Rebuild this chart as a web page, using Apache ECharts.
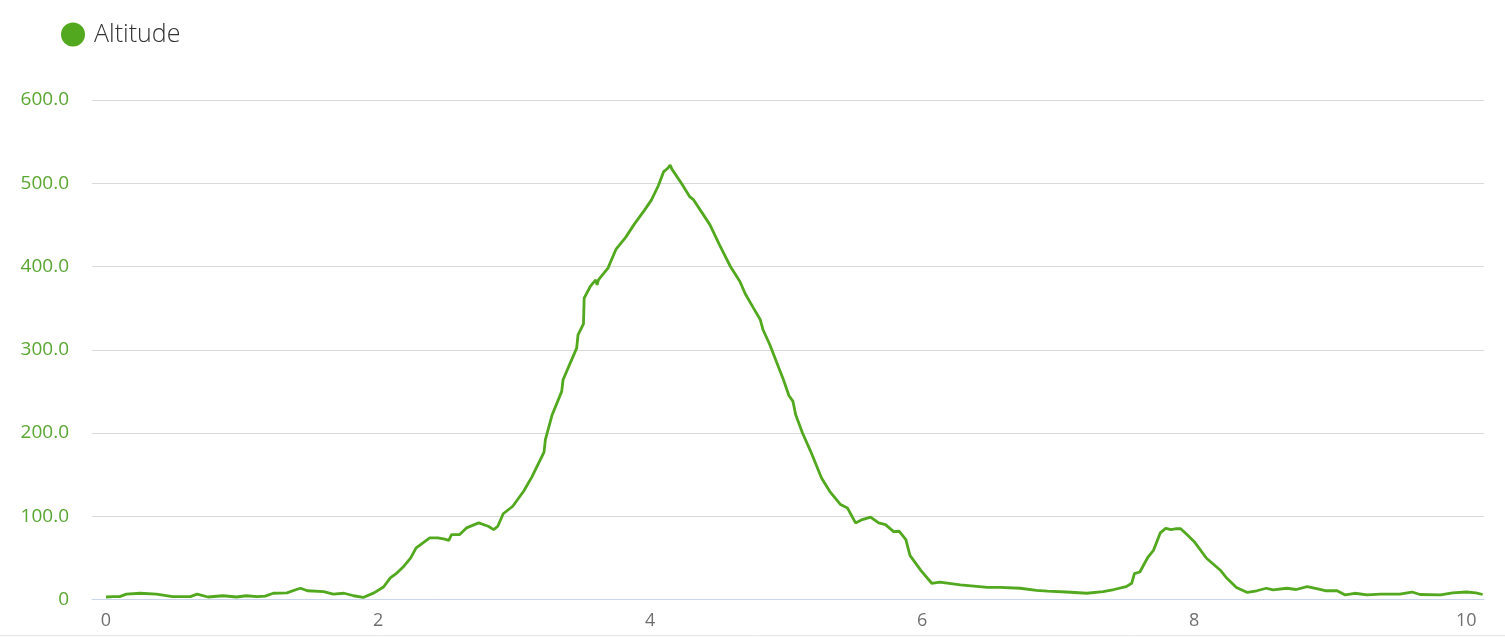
<!DOCTYPE html>
<html>
<head>
<meta charset="utf-8">
<script src="https://cdn.jsdelivr.net/npm/echarts@6/dist/echarts.min.js"></script>
<style>
html,body{margin:0;padding:0;background:#fff;}
#chart{width:1505px;height:637px;}
</style>
</head>
<body>
<div id="chart"></div>
<script>
var seriesName = 'Altitude';
var distance = [0,0.05,0.1,0.15,0.25,0.37,0.43,0.49,0.62,0.67,0.75,0.86,0.96,1.03,1.11,1.17,1.23,1.33,1.40,1.43,1.48,1.60,1.67,1.75,1.82,1.89,1.97,2.04,2.09,2.14,2.19,2.24,2.28,2.33,2.38,2.44,2.49,2.52,2.54,2.60,2.65,2.74,2.81,2.85,2.88,2.92,2.99,3.07,3.13,3.22,3.23,3.28,3.35,3.36,3.41,3.46,3.47,3.51,3.515,3.56,3.60,3.61,3.62,3.69,3.75,3.82,3.88,3.96,4.01,4.06,4.10,4.13,4.147,4.16,4.17,4.23,4.29,4.32,4.38,4.44,4.51,4.59,4.66,4.70,4.76,4.81,4.83,4.88,4.93,4.98,5.02,5.05,5.07,5.12,5.18,5.26,5.32,5.40,5.45,5.51,5.56,5.62,5.68,5.73,5.79,5.83,5.88,5.91,5.99,6.07,6.13,6.28,6.48,6.57,6.72,6.84,6.85,6.92,7.06,7.21,7.33,7.41,7.50,7.54,7.56,7.60,7.66,7.70,7.75,7.79,7.83,7.87,7.90,7.95,8.00,8.09,8.19,8.24,8.31,8.39,8.46,8.53,8.58,8.68,8.75,8.83,8.90,8.97,9.05,9.11,9.18,9.27,9.37,9.51,9.60,9.66,9.81,9.90,10.0,10.07,10.12];
var altitude = [3,3.5,3.5,6.5,7.5,6.5,5,3.5,3.5,6.5,3,4.5,3,4.5,3.5,4,7.5,8,12,13.5,10.5,9.5,6.5,7.5,4.5,2.5,8,15,26,32,40,50,62,68,74,74,72.5,71,78,78,86,92,88,84,88,103,112,130,147,177,192,222,250,264,283,302,318,331,362,376,384,378,384,398,421,435,450,468,480,497,514,518,522,517,518,500,484,480,465,450,426,400,382,367,350,336,324,306,285,264,245,238,222,200,178,146,130,114,110,92,96,99,92,90,81.5,82,72,53,35,19.5,21,17.5,14.5,14.5,13.5,11,9,10,9,7.5,9.5,12,15.5,19.5,31,33,51,59,80,85.5,84,85,85,77.5,69.5,49.5,35.5,25.5,14.5,8.5,10.5,13.5,11.5,13.5,12,15.5,13,10.5,10.5,5.5,7.5,5.5,6.5,6.5,9,6,5.5,8,9,8,6];
var xTickLabels = [0,2,4,6,8,10];

var points = distance.map(function(d,i){return [d, altitude[i]];});

var chart = echarts.init(document.getElementById('chart'), null, {renderer:'canvas'});
chart.setOption({
  animation:false,
  backgroundColor:'#fff',
  legend:{
    left:56, top:17,
    icon:'circle', itemWidth:24, itemHeight:24,
    data:[seriesName],
    textStyle:{fontFamily:'Open Sans', fontSize:25, fontWeight:300, color:'#333', padding:[0,0,0,4]}
  },
  grid:{left:92, right:21, top:100, bottom:37.5, containLabel:false},
  xAxis:{
    type:'value', min:-0.103, max:10.13,
    axisLine:{show:true, lineStyle:{color:'#ccd6eb', width:1}},
    axisTick:{show:false},
    splitLine:{show:false},
    axisLabel:{customValues:xTickLabels, color:'#707070', fontFamily:'Open Sans', fontSize:18, margin:12}
  },
  yAxis:{
    type:'value', min:0, max:600, interval:100,
    axisLine:{show:false}, axisTick:{show:false},
    splitLine:{lineStyle:{color:'#d9d9d9', width:1}},
    axisLabel:{
      color:'#5aa632', fontFamily:'Open Sans', fontSize:19, margin:23,
      formatter:function(v){return v===0?'0':v.toFixed(1);}
    }
  },
  graphic:[{type:'line', shape:{x1:0,y1:635.5,x2:1505,y2:635.5}, style:{stroke:'#e6e6e6', lineWidth:1}}],
  series:[{
    name:seriesName, type:'line', data:points,
    showSymbol:false, symbol:'circle',
    color:'#52a81e',
    lineStyle:{color:'#52a81e', width:2.8}
  }]
});
</script>
</body>
</html>
